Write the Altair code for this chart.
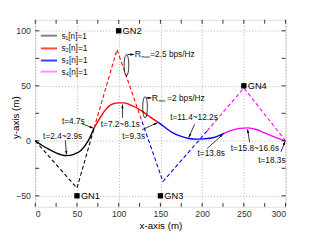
import altair as alt
import pandas as pd
import numpy as np

# ---------------- data ----------------
# solid trajectories (one segment per scheduled GN)
s1_x = [0, 8, 16, 25, 37, 47, 55, 63, 70.5]
s1_y = [0, -4, -7.6, -11, -13.5, -12, -8.5, -0.5, 11.5]
s2_x = [70.5, 73, 77, 81, 87, 93, 100, 106, 113, 120, 128, 137, 147]
s2_y = [11.5, 15, 20, 25, 30.5, 33.5, 34.5, 34.5, 33, 30.5, 27, 22, 17]
s3_x = [147, 155, 165, 175, 184, 193, 202, 214, 227]
s3_y = [17, 12.5, 7.2, 4, 2.1, 1.5, 1.8, 3, 7]
s4_x = [227, 235, 245, 255, 265, 275, 285, 292, 300]
s4_y = [7, 9.5, 11.3, 11.7, 10.3, 7.2, 4, 2, 0]

# dashed trajectories
d1_x = [0, 50, 70.5]
d1_y = [0, -43, 11.5]
d2_x = [70.5, 98, 128]
d2_y = [11.5, 83, 17.5]
d3_x = [128, 153, 206]
d3_y = [17.5, -37, 9]
d4_x = [206, 250, 300]
d4_y = [9, 48, 0]

# ground nodes
gn_names = ["GN1", "GN2", "GN3", "GN4"]
gn_x = [50, 100, 150, 250]
gn_y = [-50, 100, -50, 50]

series = ["s1", "s2", "s3", "s4"]
series_labels = ["s\u2081[n]=1", "s\u2082[n]=1", "s\u2083[n]=1", "s\u2084[n]=1"]
series_colors = ["#000000", "#ff0000", "#0000ff", "#ff00ff"]
legend_colors = ["#808080", "#ff4444", "#3a3aff", "#ff8cff"]

# time annotations
ann_text = ["t=2.4~2.9s", "t=4.7s", "t=7.2~8.1s", "t=9.3s",
            "t=11.4~12.2s", "t=13.8s", "t=15.8~16.6s", "t=18.3s"]
ann_x = [9.4, 32, 78.5, 104.3, 161.7, 194.5, 234.4, 267.2]
ann_y = [4.2, 17.5, 15.4, 4.2, 21.4, -11.2, -6.8, -17.4]

# arrows (tail -> head)
arr_x1 = [36, 56, 104.5, 128, 191, 206, 257, 294.5, 110.5, 133]
arr_y1 = [0.5, 15.5, 21, 10, 15, -7, -1.5, -10, 78.5, 39]
arr_x2 = [37.5, 69.5, 104.5, 146.5, 184, 225, 254.5, 299.5, 118.3, 139.2]
arr_y2 = [-12.5, 11.5, 33, 16.5, 3, 6, 10.5, -0.5, 78.5, 39]

# rate labels
rate_sub = ["max", "min"]
rate_val = ["=2.5 bps/Hz", "=2 bps/Hz"]
rate_x = [119.2, 139.5]
rate_y = [78.5, 38.5]
ell_x = [109.3, 131.6]
ell_y = [68.7, 30.5]

# ---------------- layout ----------------
W, H = 257, 192
XD, YD = [0, 300], [-60, 110]
FONT = "Liberation Sans"

xs = alt.Scale(domain=XD, nice=False, zero=False)
ys = alt.Scale(domain=YD, nice=False, zero=False)
xaxis = alt.Axis(values=[0, 50, 100, 150, 200, 250, 300], ticks=False, domain=False,
                 grid=True, gridDash=[1, 2], gridColor="#a0a0a0", gridWidth=0.8,
                 labelFontSize=9, labelFont=FONT, labelColor="#333", labelPadding=3,
                 title="x-axis (m)", titleFont=FONT, titleFontSize=10,
                 titleFontWeight="normal", titleColor="#000", titlePadding=2)
yaxis = alt.Axis(values=[-50, 0, 50, 100], ticks=False, domain=False,
                 grid=True, gridDash=[1, 2], gridColor="#a0a0a0", gridWidth=0.8,
                 labelFontSize=9, labelFont=FONT, labelColor="#333", labelPadding=5,
                 title="y-axis (m)", titleFont=FONT, titleFontSize=10,
                 titleFontWeight="normal", titleColor="#000",
                 titleX=-20, titleY=100, titleAngle=270, titleAlign="center",
                 titleBaseline="middle")


def X(f="x"):
    return alt.X(f"{f}:Q", scale=xs, axis=xaxis)


def Y(f="y"):
    return alt.Y(f"{f}:Q", scale=ys, axis=yaxis)


cscale = alt.Scale(domain=series, range=series_colors)

solid = pd.concat([
    pd.DataFrame({"x": s1_x, "y": s1_y, "s": "s1"}),
    pd.DataFrame({"x": s2_x, "y": s2_y, "s": "s2"}),
    pd.DataFrame({"x": s3_x, "y": s3_y, "s": "s3"}),
    pd.DataFrame({"x": s4_x, "y": s4_y, "s": "s4"}),
], ignore_index=True)
solid["i"] = range(len(solid))
dashed = pd.concat([
    pd.DataFrame({"x": d1_x, "y": d1_y, "s": "s1"}),
    pd.DataFrame({"x": d2_x, "y": d2_y, "s": "s2"}),
    pd.DataFrame({"x": d3_x, "y": d3_y, "s": "s3"}),
    pd.DataFrame({"x": d4_x, "y": d4_y, "s": "s4"}),
], ignore_index=True)
dashed["i"] = range(len(dashed))

# frame ticks (inward)
xt = pd.DataFrame({"x": list(range(0, 301, 25))})
yt = pd.DataFrame({"y": list(range(-50, 101, 25))})
tick_bot = alt.Chart(xt).mark_rule(color="#000", strokeWidth=0.8).encode(
    x=X(), y=alt.value(H), y2=alt.value(H - 4))
tick_top = alt.Chart(xt).mark_rule(color="#000", strokeWidth=0.8).encode(
    x=X(), y=alt.value(0), y2=alt.value(4))
tick_l = alt.Chart(yt).mark_rule(color="#000", strokeWidth=0.8).encode(
    y=Y(), x=alt.value(0), x2=alt.value(4))
tick_r = alt.Chart(yt).mark_rule(color="#000", strokeWidth=0.8).encode(
    y=Y(), x=alt.value(W), x2=alt.value(W - 4))

dash_layer = alt.Chart(dashed).mark_line(strokeWidth=1.1, strokeDash=[4, 2.5]).encode(
    x=X(), y=Y(), color=alt.Color("s:N", scale=cscale, legend=None), order="i:Q")
solid_layer = alt.Chart(solid).mark_line(strokeWidth=1.4, interpolate="monotone").encode(
    x=X(), y=Y(), color=alt.Color("s:N", scale=cscale, legend=None), order="i:Q")

gn = pd.DataFrame({"x": gn_x, "y": gn_y, "t": gn_names})
gn_pts = alt.Chart(gn).mark_square(size=30, color="#000", opacity=1).encode(x=X(), y=Y())
gn_txt = alt.Chart(gn).mark_text(align="left", baseline="middle", dx=4, font=FONT,
                                 fontSize=9.5, color="#000").encode(x=X(), y=Y(), text="t:N")

ann = pd.DataFrame({"x": ann_x, "y": ann_y, "t": ann_text})
ann_layer = alt.Chart(ann).mark_text(align="left", baseline="middle", font=FONT,
                                     fontSize=8.5, color="#111").encode(x=X(), y=Y(), text="t:N")

# arrows
sx = W / (XD[1] - XD[0])
sy = H / (YD[1] - YD[0])
arr = pd.DataFrame({"x": arr_x1, "y": arr_y1, "x2": arr_x2, "y2": arr_y2})
arr["ang"] = (np.degrees(np.arctan2((arr["x2"] - arr["x"]) * sx,
                                    (arr["y2"] - arr["y"]) * sy)) + 360) % 360
arr_lines = alt.Chart(arr).mark_rule(color="#000", strokeWidth=0.8).encode(
    x=X(), y=Y(), x2="x2:Q", y2="y2:Q")
head_shape = "M0,0 L0.6,1.9 L-0.6,1.9 Z"
arr_heads = alt.Chart(arr).mark_point(shape=head_shape, filled=True, size=16,
                                      color="#000", opacity=1).encode(
    x=X("x2"), y=Y("y2"), angle=alt.Angle("ang:Q", scale=None))

# ellipses around the rate points
ell = pd.DataFrame({"x": ell_x, "y": ell_y})
ell_shape = "M0,-1 A0.22,1 0 1,1 0,1 A0.22,1 0 1,1 0,-1 Z"
ell_layer = alt.Chart(ell).mark_point(shape=ell_shape, filled=False, size=470,
                                      color="#000", strokeWidth=0.8, opacity=1).encode(x=X(), y=Y())

rate = pd.DataFrame({"x": rate_x, "y": rate_y, "sub": rate_sub, "val": rate_val})
rate_R = alt.Chart(rate).mark_text(align="left", baseline="middle", font=FONT, fontSize=9,
                                   color="#111").encode(x=X(), y=Y(), text=alt.value("R"))
rate_s = alt.Chart(rate).mark_text(align="left", baseline="middle", font=FONT, fontSize=4.5,
                                   dx=7, dy=3, color="#111").encode(x=X(), y=Y(), text="sub:N")
rate_v = alt.Chart(rate).mark_text(align="left", baseline="middle", font=FONT, fontSize=8.5,
                                   dx=16, color="#111").encode(x=X(), y=Y(), text="val:N")

# legend
leg_y = [95.6, 84.0, 73.0, 62.9]
leg = pd.DataFrame({"x": [6.7] * 4, "x2": [26.1] * 4, "tx": [31.3] * 4, "y": leg_y,
                    "t": series_labels, "c": legend_colors})
leg_lines = alt.Chart(leg).mark_rule(strokeWidth=2).encode(
    x=X(), x2="x2:Q", y=Y(), color=alt.Color("c:N", scale=None))
leg_txt = alt.Chart(leg).mark_text(align="left", baseline="middle", font=FONT, fontSize=8.5,
                                   color="#111").encode(x=X("tx"), y=Y(), text="t:N")

chart = alt.layer(
    dash_layer, solid_layer, tick_bot, tick_top, tick_l, tick_r,
    gn_pts, gn_txt, ann_layer, arr_lines, arr_heads, ell_layer,
    rate_R, rate_s, rate_v, leg_lines, leg_txt
).properties(
    width=W, height=H, autosize="none",
    padding={"left": 28, "top": 9, "right": 21, "bottom": 33},
).configure_view(stroke="#000", strokeWidth=1).configure(background="white")

chart.save("out.html", embed_options={"renderer": "svg", "actions": False})
